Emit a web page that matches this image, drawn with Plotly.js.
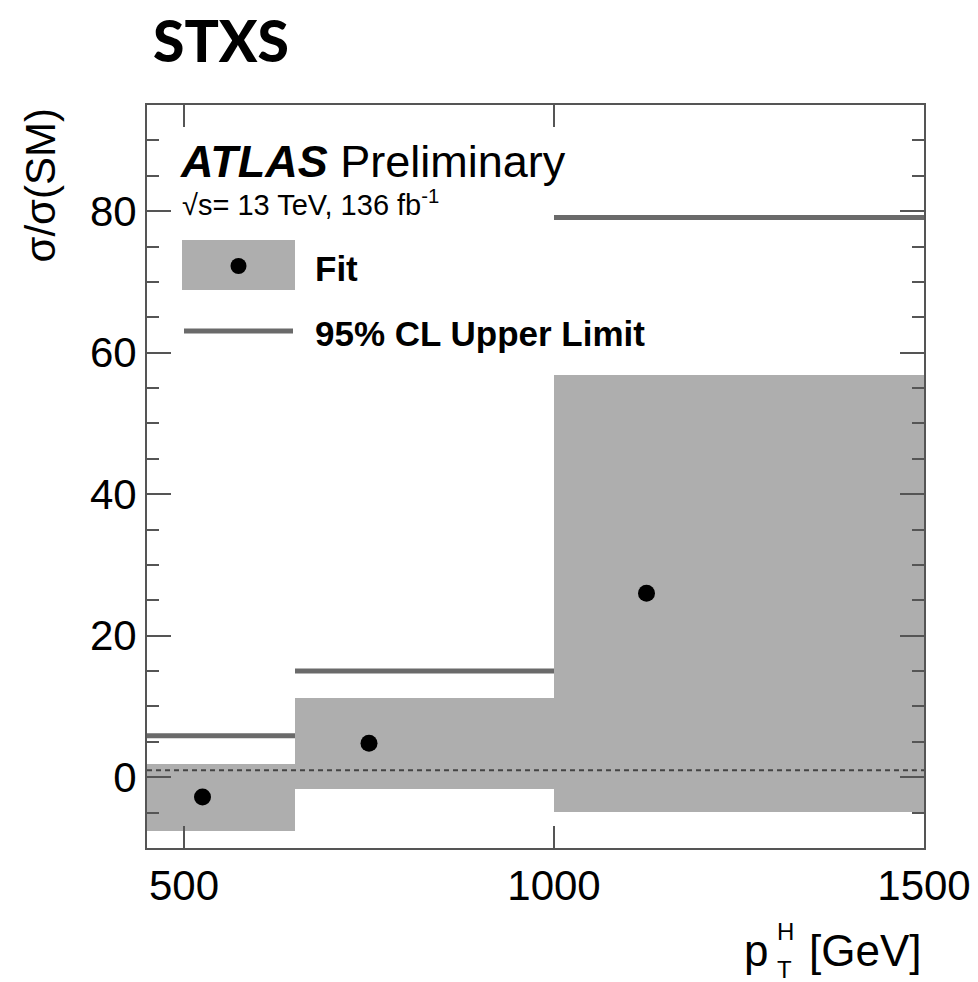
<!DOCTYPE html>
<html>
<head>
<meta charset="utf-8">
<script src="https://cdn.plot.ly/plotly-3.0.1.min.js"></script>
<style>html,body{margin:0;padding:0;background:#fff;}#chart{width:978px;height:982px;}</style>
</head>
<body>
<div id="chart"></div>
<script>
// ---- data ----
const binLow   = [450, 650, 1000];
const binHigh  = [650, 1000, 1500];
const fitX     = [525, 750, 1125];
const fitValue = [-2.8, 4.8, 26.0];
const fitDown  = [-7.6, -1.65, -4.95];
const fitUp    = [1.9, 11.25, 56.9];
const upperLimit = [5.85, 15.0, 79.1];
const smValue  = 1;
const xTickVals = [500, 1000, 1500];
const yTickVals = [0, 20, 40, 60, 80];

// ---- layout geometry (pixels) ----
const W = 978, H = 982;
const L = 147, R = 924, T = 105, B = 848;
const px = v => (v - L) / (R - L);
const py = v => (B - v) / (B - T);

const bandColor = '#aeaeae';
const limitColor = '#6a6a6a';
const axisColor = '#555555';
const font = 'Liberation Sans, Arial, Helvetica, sans-serif';

const traces = [];
// uncertainty bands as bars
traces.push({
  type: 'bar',
  x: binLow.map((l, i) => (l + binHigh[i]) / 2),
  width: binLow.map((l, i) => binHigh[i] - l),
  base: fitDown,
  y: fitUp.map((u, i) => u - fitDown[i]),
  marker: {color: bandColor, line: {width: 0}},
  hoverinfo: 'skip',
  showlegend: false
});
// SM reference line
traces.push({
  type: 'scatter', mode: 'lines',
  x: [binLow[0], binHigh[binHigh.length - 1]],
  y: [smValue, smValue],
  line: {color: '#444', width: 2, dash: '5px,4px'},
  hoverinfo: 'skip', showlegend: false
});
// upper limits
const limX = [], limY = [];
binLow.forEach((l, i) => { limX.push(l, binHigh[i], null); limY.push(upperLimit[i], upperLimit[i], null); });
traces.push({
  type: 'scatter', mode: 'lines', x: limX, y: limY,
  line: {color: limitColor, width: 5}, connectgaps: false,
  hoverinfo: 'skip', showlegend: false
});
// fit points
traces.push({
  type: 'scatter', mode: 'markers', x: fitX, y: fitValue,
  marker: {color: '#000', size: 17},
  showlegend: false
});

const ann = (text, x, y, xanchor, size, extra) => Object.assign({
  text: text, x: px(x), y: py(y), xref: 'paper', yref: 'paper',
  xanchor: xanchor, yanchor: 'middle', showarrow: false,
  font: {family: font, size: size, color: '#000'}
}, extra || {});

const annotations = [
  ann('<b>STXS</b>', 151, 40, 'left', 56, {font: {family: 'Lato Black, Lato, Noto Sans, sans-serif', size: 57, color: '#000', weight: 900}}),
  ann('<b><i>ATLAS</i></b> Preliminary', 178, 161, 'left', 45),
  ann('√s= 13 TeV, 136 fb<sup>-1</sup>', 180, 203, 'left', 29),
  ann('<b>Fit</b>', 313, 268, 'left', 35),
  ann('<b>95% CL Upper Limit</b>', 313, 333, 'left', 35),
  ann('σ/σ(SM)', 40, 106, 'center', 42, {yanchor: 'top', textangle: -90}),
  // x-axis title p_T^H [GeV]
  ann('[GeV]', 924, 950, 'right', 44),
  ann('p', 770, 950, 'right', 44),
  ann('H', 775, 931, 'left', 24),
  ann('T', 775, 969, 'left', 24)
];

const shapes = [
  {type: 'rect', xref: 'paper', yref: 'paper', x0: px(182), x1: px(295), y0: py(240), y1: py(290),
   fillcolor: bandColor, line: {width: 0}},
  {type: 'circle', xref: 'paper', yref: 'paper', x0: px(230.5), x1: px(246.5), y0: py(258), y1: py(274),
   fillcolor: '#000', line: {width: 0}},
  {type: 'line', xref: 'paper', yref: 'paper', x0: px(184), x1: px(293), y0: py(331), y1: py(331),
   line: {color: limitColor, width: 5}}
];

const layout = {
  width: W, height: H,
  margin: {l: L, r: W - R, t: T, b: H - B, pad: 0},
  paper_bgcolor: '#fff', plot_bgcolor: '#fff',
  showlegend: false,
  bargap: 0,
  xaxis: {
    range: [450, 1500], tickmode: 'array', tickvals: xTickVals, ticktext: xTickVals.map(String),
    ticks: 'inside', ticklen: 22, tickwidth: 2, tickcolor: axisColor,
    showline: true, linecolor: axisColor, linewidth: 2, mirror: 'allticks',
    showgrid: false, zeroline: false,
    tickfont: {family: font, size: 42, color: '#000'}
  },
  yaxis: {
    range: [-10, 95], tickmode: 'array', tickvals: yTickVals, ticktext: yTickVals.map(String),
    ticks: 'inside', ticklen: 24, tickwidth: 2, tickcolor: axisColor,
    minor: {dtick: 5, tick0: 0, ticks: 'inside', ticklen: 12, tickwidth: 2, tickcolor: axisColor, showgrid: false},
    showline: true, linecolor: axisColor, linewidth: 2, mirror: 'allticks',
    showgrid: false, zeroline: false,
    tickfont: {family: font, size: 42, color: '#000'}
  },
  annotations: annotations,
  shapes: shapes
};

Plotly.newPlot('chart', traces, layout, {displayModeBar: false, staticPlot: true});
</script>
</body>
</html>
